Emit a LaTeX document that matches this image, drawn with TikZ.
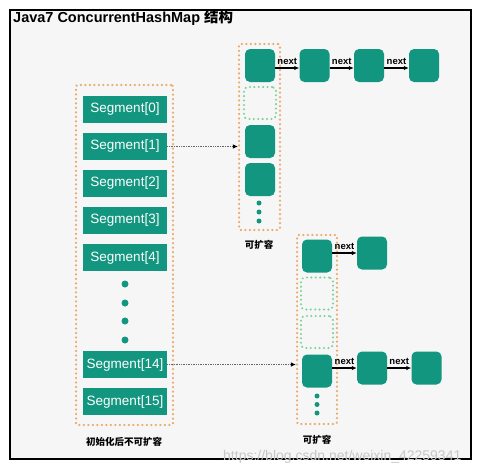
\documentclass[tikz,border=0pt]{standalone}
\usepackage{fontspec}
\setmainfont{Liberation Sans}
\newfontfamily\cjk{Noto Sans CJK SC}
\usetikzlibrary{arrows.meta}

\definecolor{bucketgreen}{RGB}{18,150,127}
\definecolor{dotorange}{RGB}{236,170,108}
\definecolor{dotgreen}{RGB}{120,212,150}
\definecolor{paper}{RGB}{246,246,246}

\begin{document}
\begin{tikzpicture}[x=1pt,y=-1pt,
        seg/.style={fill=bucketgreen, text=white, minimum width=84pt, minimum height=27pt, inner sep=0pt, font=\fontsize{13.5}{15}\selectfont},
        bucket/.style={fill=bucketgreen, rounded corners=5pt, minimum width=30pt, minimum height=33pt, inner sep=0pt},
        hole/.style={draw=dotgreen, line width=2.2pt, line cap=round, dash pattern=on 0.1pt off 4.3pt, rounded corners=4pt, minimum width=32pt, minimum height=32pt, inner sep=0pt},
        wall/.style={draw=dotorange, line width=2.4pt, line cap=round, dash pattern=on 0.1pt off 4.4pt, rounded corners=2pt, inner sep=0pt},
        bigdot/.style={circle, fill=bucketgreen, inner sep=0pt, minimum size=7pt},
        smalldot/.style={circle, fill=bucketgreen, inner sep=0pt, minimum size=5pt},
        nextarrow/.style={-{Latex[length=5pt,width=4.5pt]}, line width=1.1pt},
        ptr/.style={densely dotted, black!60, line width=0.7pt, -{Latex[length=5pt,width=4.5pt,black]}},
        nextlabel/.style={font=\bfseries\fontsize{9.5}{10}\selectfont, inner sep=0pt, anchor=base, yshift=4pt},
        caption/.style={font=\cjk\bfseries\fontsize{9.5}{10}\selectfont}]
    \useasboundingbox (0,0) rectangle (502,475);
    \draw[line width=2pt, fill=paper] (10,10) rectangle (471,459);

    \node[anchor=base west, font=\bfseries\fontsize{14.5}{16}\selectfont, inner sep=0pt] (title) at (13,22.5) {Java7 ConcurrentHashMap {\cjk 结构}};

    % segment array
    \node[wall, minimum width=97pt, minimum height=340pt] (segwall) at (124.5,255) {};
    \foreach \i/\y in {0/109.5, 1/146.5, 2/183.5, 3/220.5, 4/257.5}
        \node[seg] (seg\i) at (125,\y) {Segment[\i]};
    \foreach \y [count=\k] in {284, 303, 321, 340}
        \node[bigdot] (segdot\k) at (125,\y) {};
    \node[seg] (seg14) at (125,364.5) {Segment[14]};
    \node[seg] (seg15) at (125,401.5) {Segment[15]};
    \node[caption] (segcap) at (124,442) {初始化后不可扩容};

    % table of Segment[1]
    \node[wall, minimum width=41pt, minimum height=186pt] (tabA) at (259.5,137) {};
    \node[bucket] (a0) at (260,65.5) {};
    \node[hole] (a1) at (260,103) {};
    \node[bucket] (a2) at (260,141.5) {};
    \node[bucket] (a3) at (260,179.5) {};
    \foreach \y [count=\k] in {203, 212, 221}
        \node[smalldot] (adot\k) at (259,\y) {};
    \node[caption] (capA) at (259,245) {可扩容};
    \node[bucket] (a0n1) at (314.5,65.5) {};
    \node[bucket] (a0n2) at (369,65.5) {};
    \node[bucket] (a0n3) at (424,65.5) {};
    \draw[nextarrow] ([yshift=-2.5pt]a0.east) -- node[nextlabel] {next} ([yshift=-2.5pt]a0n1.west);
    \draw[nextarrow] ([yshift=-2.5pt]a0n1.east) -- node[nextlabel] {next} ([yshift=-2.5pt]a0n2.west);
    \draw[nextarrow] ([yshift=-2.5pt]a0n2.east) -- node[nextlabel] {next} ([yshift=-2.5pt]a0n3.west);

    % table of Segment[14]
    \node[wall, minimum width=40pt, minimum height=189pt] (tabB) at (317,329.5) {};
    \node[bucket] (b0) at (317,256) {};
    \node[hole] (b1) at (317,293.5) {};
    \node[hole] (b2) at (317,332) {};
    \node[bucket] (b3) at (317,371) {};
    \foreach \y [count=\k] in {396, 404.5, 413}
        \node[smalldot] (bdot\k) at (317,\y) {};
    \node[caption] (capB) at (317,440) {可扩容};
    \node[bucket] (b0n1) at (372,253) {};
    \node[bucket] (b3n1) at (372,368) {};
    \node[bucket] (b3n2) at (426.5,368) {};
    \draw[nextarrow] (b0.east |- b0n1) -- node[nextlabel] {next} (b0n1.west);
    \draw[nextarrow] (b3.east |- b3n1) -- node[nextlabel] {next} (b3n1.west);
    \draw[nextarrow] (b3n1.east) -- node[nextlabel] {next} (b3n2.west);

    % segment -> table
    \draw[ptr] (seg1.east) -- (seg1.east -| tabA.west);
    \draw[ptr] (seg14.east) -- (seg14.east -| tabB.west);

    \node[anchor=west, text=black!22, font=\fontsize{14}{15}\selectfont, inner sep=0pt] (mark) at (223,457) {https://blog.csdn.net/weixin\_42259341};
\end{tikzpicture}
\end{document}
